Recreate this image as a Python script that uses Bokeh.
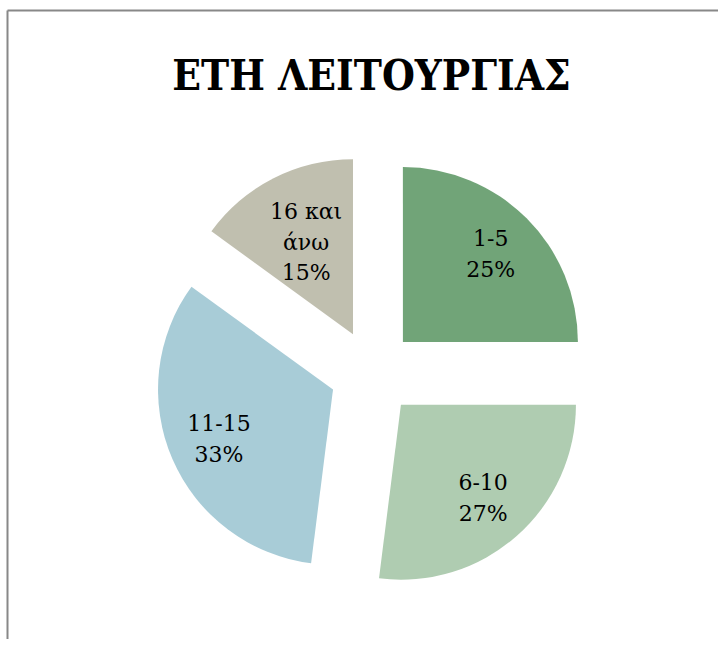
import math
from bokeh.plotting import figure
from bokeh.models import Range1d, ColumnDataSource
from bokeh.core.properties import value
from bokeh.embed import file_html
from bokeh.resources import INLINE

# ---- data ----
categories = ["1-5", "6-10", "11-15", "16 και\nάνω"]
shares = [25, 27, 33, 15]
colors = ["#71A478", "#AFCCB1", "#A8CCD7", "#C0BFAF"]
title_text = "ΕΤΗ ΛΕΙΤΟΥΡΓΙΑΣ"

W, H = 718, 639
p = figure(width=W, height=H, output_backend="svg", toolbar_location=None,
           x_range=Range1d(0, W), y_range=Range1d(0, H),
           x_axis_type=None, y_axis_type=None, min_border=0,
           outline_line_color=None, background_fill_color="white")
p.grid.visible = False

def page_to_data(px, py):
    return px, H - py

cx, cy = page_to_data(372, 372)
R = 175
explode = 43
label_frac = [0.71, 0.71, 0.71, 0.59]

total = sum(shares)
xs, ys, sa, ea, lx, ly, texts = [], [], [], [], [], [], []
cum = 0.0
for i, v in enumerate(shares):
    a0 = cum / total * 2 * math.pi
    cum += v
    a1 = cum / total * 2 * math.pi
    mid = math.pi / 2 - (a0 + a1) / 2
    ox = cx + explode * math.cos(mid)
    oy = cy + explode * math.sin(mid)
    xs.append(ox); ys.append(oy)
    sa.append(math.pi / 2 - a1); ea.append(math.pi / 2 - a0)
    lx.append(ox + label_frac[i] * R * math.cos(mid))
    ly.append(oy + label_frac[i] * R * math.sin(mid))
    texts.append(f"{categories[i]}\n{round(v / total * 100)}%")

src = ColumnDataSource(dict(x=xs, y=ys, sa=sa, ea=ea, color=colors,
                            lx=lx, ly=ly, text=texts))
p.wedge(x="x", y="y", radius=R, start_angle="sa", end_angle="ea",
        fill_color="color", line_color=None, source=src)
p.text(x="lx", y="ly", text="text", source=src, text_align="center",
       text_baseline="middle", text_font=value("DejaVu Serif"),
       text_font_size="22px", text_color="#000000", text_line_height=1.22)

tx, ty = page_to_data(371, 75)
p.text(x=[tx], y=[ty], text=[title_text], text_align="center",
       text_baseline="alphabetic",
       text_font=value("DejaVu Serif Condensed"), text_font_style="bold",
       text_font_size="42px", text_color="#000000")

# chart frame (left and top edges visible)
bx, by = page_to_data(7, 10)
p.line(x=[bx, bx], y=[0, by], line_color="#888888", line_width=2)
p.line(x=[bx, W], y=[by, by], line_color="#888888", line_width=2)

open("out.html", "w").write(file_html(p, INLINE))
